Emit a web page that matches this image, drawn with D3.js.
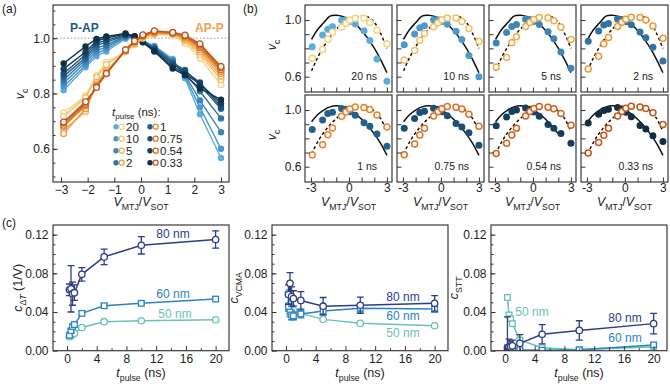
<!DOCTYPE html>
<meta charset="utf-8">
<script src="https://cdn.jsdelivr.net/npm/d3@7/dist/d3.min.js"></script>
<style>
  body { margin: 0; background: #fff; }
  svg { font-family: "Liberation Sans", Arial, Helvetica, sans-serif; }
</style>
<svg width="670" height="386"></svg>
<script>
// ---- data: panel (a) / (b) ----
var ratio = [-2.9, -2.08, -1.67, -1.3, -0.58, -0.24, 0.07, 0.5, 1.19, 1.65, 2.21, 3.0];
var tpulse = [20, 10, 5, 2, 1, 0.75, 0.54, 0.33];

// P-AP, filled circles (same order as tpulse)
var papVc = [
  [0.812, 0.895, 0.935, 0.952, 0.998, 1.000, 0.990, 0.972, 0.925, 0.855, 0.725, 0.567],
  [0.825, 0.902, 0.945, 0.960, 1.002, 1.002, 0.990, 0.970, 0.920, 0.862, 0.750, 0.600],
  [0.838, 0.912, 0.955, 0.968, 1.005, 1.003, 0.989, 0.968, 0.918, 0.868, 0.775, 0.660],
  [0.850, 0.922, 0.965, 0.975, 1.008, 1.004, 0.988, 0.966, 0.915, 0.875, 0.808, 0.710],
  [0.862, 0.930, 0.975, 0.985, 1.010, 1.005, 0.988, 0.963, 0.910, 0.885, 0.830, 0.745],
  [0.872, 0.940, 0.982, 0.992, 1.012, 1.006, 0.987, 0.960, 0.905, 0.880, 0.840, 0.752],
  [0.889, 0.950, 0.990, 1.000, 1.015, 1.006, 0.986, 0.956, 0.897, 0.872, 0.835, 0.765],
  [0.909, 0.970, 0.997, 1.006, 1.017, 1.007, 0.985, 0.952, 0.890, 0.866, 0.818, 0.778]
];
// AP-P, open circles
var appVc = [
  [0.730, 0.792, 0.865, 0.913, 0.950, 0.976, 1.000, 1.012, 1.012, 0.982, 0.928, 0.832],
  [0.718, 0.785, 0.858, 0.905, 0.952, 0.979, 1.002, 1.015, 1.014, 0.990, 0.940, 0.850],
  [0.668, 0.735, 0.840, 0.882, 0.954, 0.982, 1.004, 1.018, 1.016, 0.995, 0.950, 0.862],
  [0.655, 0.745, 0.832, 0.876, 0.955, 0.984, 1.006, 1.020, 1.017, 1.000, 0.958, 0.872],
  [0.682, 0.755, 0.826, 0.873, 0.956, 0.986, 1.008, 1.022, 1.018, 1.004, 0.965, 0.880],
  [0.685, 0.760, 0.824, 0.872, 0.957, 0.988, 1.009, 1.024, 1.019, 1.007, 0.970, 0.886],
  [0.693, 0.765, 0.823, 0.872, 0.958, 0.989, 1.010, 1.025, 1.020, 1.009, 0.975, 0.892],
  [0.697, 0.770, 0.822, 0.872, 0.958, 0.990, 1.012, 1.027, 1.021, 1.011, 0.980, 0.898]
];
var papColors = ["#5eacdc", "#4b9acb", "#3c87b8", "#2f74a3", "#23618c", "#1b4f74", "#153f5e", "#0f2f47"];
var appColors = ["#f6d382", "#f3c066", "#f0ac4e", "#ec993d", "#e5852f", "#dc7326", "#d0631f", "#c4561b"];

// fit curves in (b)
var fitX = [-2.95, -2.5, -2, -1.5, -1, -0.5, 0, 0.5, 1, 1.5, 2, 2.5, 3];
var fitLongPAP  = [0.864, 0.930, 0.980, 1.028, 1.034, 1.025, 1.003, 0.971, 0.926, 0.869, 0.801, 0.721, 0.628];
var fitLongAPP  = [0.642, 0.730, 0.810, 0.880, 0.935, 0.975, 1.002, 1.020, 1.028, 1.022, 0.985, 0.905, 0.800];
var fitShortPAP = [0.917, 0.965, 1.000, 1.022, 1.030, 1.022, 1.002, 0.973, 0.935, 0.888, 0.832, 0.765, 0.680];
var fitShortAPP = [0.690, 0.770, 0.840, 0.895, 0.940, 0.975, 1.000, 1.017, 1.025, 1.020, 0.993, 0.940, 0.848];
var fitEnd = [3, 3, 3, 3, 3, 3, 2.2, 3];

// ---- data: panel (c) ----
var tp = [0.33, 0.54, 0.75, 1, 2, 5, 10, 20];
var sizes = ["50 nm", "60 nm", "80 nm"];
var sizeColors = ["#6cc1b5", "#2a84c4", "#2d3d8c"];

var cdt50 = [0.0145, 0.0155, 0.017, 0.018, 0.024, 0.030, 0.031, 0.032];
var cdt60 = [0.016, 0.0207, 0.025, 0.027, 0.0386, 0.0465, 0.049, 0.0534];
var cdt80 = [0.063, 0.064, 0.059, 0.060, 0.079, 0.097, 0.109, 0.115];
var cdt50err = [0.001, 0.001, 0.001, 0.001, 0.001, 0.001, 0.001, 0.001];
var cdt60err = [0.002, 0.002, 0.002, 0.002, 0.002, 0.002, 0.002, 0.002];
var cdt80err = [0.006, 0.024, 0.012, 0.008, 0.007, 0.008, 0.009, 0.009];

var cvc50 = [0.060, 0.048, 0.045, 0.042, 0.0386, 0.0324, 0.0283, 0.0258];
var cvc60 = [0.045, 0.040, 0.037, 0.036, 0.038, 0.041, 0.044, 0.043];
var cvc80 = [0.058, 0.0697, 0.056, 0.054, 0.052, 0.046, 0.047, 0.049];
var cvc50err = [0.001, 0.001, 0.001, 0.001, 0.001, 0.001, 0.001, 0.001];
var cvc60err = [0.004, 0.005, 0.005, 0.004, 0.004, 0.004, 0.004, 0.003];
var cvc80err = [0.010, 0.011, 0.010, 0.008, 0.009, 0.009, 0.0085, 0.008];

var cst50 = [0.055, 0.037, 0.033, 0.028, 0.011, 0.003, 0.001, 0.004];
var cst60 = [0.003, 0.003, 0.002, 0.002, 0.001, 0.0005, 0.001, 0.006];
var cst80 = [0.003, 0.004, 0.004, 0.005, 0.0076, 0.017, 0.021, 0.028];
var cst50err = [0.002, 0.002, 0.002, 0.002, 0.002, 0.002, 0.002, 0.002];
var cst60err = [0.002, 0.002, 0.002, 0.002, 0.002, 0.002, 0.002, 0.002];
var cst80err = [0.032, 0.008, 0.006, 0.006, 0.009, 0.010, 0.010, 0.0105];

var svg = d3.select("svg");
var axisCol = "#333";

function frame(g, w, h) {
  g.append("rect").attr("width", w).attr("height", h)
    .attr("fill", "none").attr("stroke", "#3a3a3a").attr("stroke-width", 1.2);
}

// text with italic / subscript pieces
function rich(g, x, y, parts, size, anchor, rotate) {
  var t = g.append("text").attr("font-size", size).attr("fill", "#222")
    .attr("text-anchor", anchor || "middle");
  if (rotate) t.attr("transform", "translate(" + x + "," + y + ") rotate(-90)");
  else t.attr("x", x).attr("y", y);
  var shift = 0;
  parts.forEach(function(p) {
    var ts = t.append("tspan").text(p.t);
    if (p.i) ts.attr("font-style", "italic");
    var target = p.sub ? size * 0.28 : 0;
    ts.attr("dy", target - shift);
    shift = target;
    if (p.sub) ts.attr("font-size", size * 0.7);
  });
  return t;
}

function leftAxis(g, y, major, minor, fmt, pad) {
  if (minor) {
    g.append("g").call(d3.axisLeft(y).tickValues(minor).tickSize(-2.5).tickFormat(""))
      .call(function(s) { s.select(".domain").remove(); });
  }
  var a = g.append("g").call(d3.axisLeft(y).tickValues(major).tickSize(-4.5).tickPadding(pad).tickFormat(fmt));
  a.select(".domain").remove();
  g.selectAll("g").attr("color", axisCol);
  a.selectAll("text").attr("font-size", 12).attr("fill", "#222").attr("font-family", null);
}

function bottomAxis(g, x, h, major, minor, fmt, pad) {
  if (minor) {
    g.append("g").attr("transform", "translate(0," + h + ")")
      .call(d3.axisBottom(x).tickValues(minor).tickSize(-2.5).tickFormat(""))
      .call(function(s) { s.select(".domain").remove(); });
  }
  var a = g.append("g").attr("transform", "translate(0," + h + ")")
    .call(d3.axisBottom(x).tickValues(major).tickSize(-4.5).tickPadding(pad).tickFormat(fmt));
  a.select(".domain").remove();
  g.selectAll("g").attr("color", axisCol);
  a.selectAll("text").attr("font-size", 12).attr("fill", "#222").attr("font-family", null);
}

var vParts = [{t: "V", i: 1}, {t: "MTJ", sub: 1}, {t: "/"}, {t: "V", i: 1}, {t: "SOT", sub: 1}];
var vcParts = [{t: "v", i: 1}, {t: "c", sub: 1}];
var tParts = [{t: "t", i: 1}, {t: "pulse", sub: 1}, {t: " (ns)"}];

// ================= (a) =================
var aW = 176, aH = 177;
var ga = svg.append("g").attr("transform", "translate(53,5)");
var xA = d3.scaleLinear().domain([-3.3, 3.3]).range([0, aW]);
var yA = d3.scaleLinear().domain([0.48, 1.12]).range([aH, 0]);

ga.append("line").attr("x1", 0).attr("x2", aW).attr("y1", yA(1)).attr("y2", yA(1))
  .attr("stroke", "#999").attr("stroke-width", 1).attr("stroke-dasharray", "1.5,2");

var lineA = d3.line().x(function(d, i) { return xA(ratio[i]); }).y(function(d) { return yA(d); });

papVc.forEach(function(s, k) {
  ga.append("path").attr("d", lineA(s)).attr("fill", "none")
    .attr("stroke", papColors[k]).attr("stroke-width", 1.4);
  ga.selectAll(null).data(s).enter().append("circle")
    .attr("cx", function(d, i) { return xA(ratio[i]); }).attr("cy", function(d) { return yA(d); })
    .attr("r", 3.2).attr("fill", papColors[k]);
});
appVc.forEach(function(s, k) {
  ga.append("path").attr("d", lineA(s)).attr("fill", "none")
    .attr("stroke", appColors[k]).attr("stroke-width", 1.4);
  ga.selectAll(null).data(s).enter().append("circle")
    .attr("cx", function(d, i) { return xA(ratio[i]); }).attr("cy", function(d) { return yA(d); })
    .attr("r", 2.9).attr("fill", "#fff").attr("stroke", appColors[k]).attr("stroke-width", 1.3);
});

leftAxis(ga, yA, [0.6, 0.8, 1.0], d3.range(0.5, 1.11, 0.05), d3.format(".1f"), 3);
bottomAxis(ga, xA, aH, [-3, -2, -1, 0, 1, 2, 3], null, d3.format("d"), 3);
frame(ga, aW, aH);

ga.append("text").attr("x", 17).attr("y", 26.5).attr("font-size", 12).attr("font-weight", "bold")
  .attr("fill", "#1f5a85").text("P-AP");
ga.append("text").attr("x", 142).attr("y", 26.5).attr("font-size", 12).attr("font-weight", "bold")
  .attr("fill", "#f0a24e").text("AP-P");

// legend
rich(ga, 59, 111, [{t: "t", i: 1}, {t: "pulse", sub: 1}, {t: " (ns):"}], 11.5, "start");
tpulse.forEach(function(t, k) {
  var col = Math.floor(k / 4), row = k % 4;
  var lx = col === 0 ? 63 : 97, ly = 121.7 + row * 12;
  ga.append("circle").attr("cx", lx).attr("cy", ly).attr("r", 2.7).attr("fill", papColors[k]);
  ga.append("circle").attr("cx", lx + 5.7).attr("cy", ly).attr("r", 2.5)
    .attr("fill", "#fff").attr("stroke", appColors[k]).attr("stroke-width", 1.2);
  ga.append("text").attr("x", lx + 10).attr("y", ly + 4.2).attr("font-size", 11.5)
    .attr("fill", "#222").text(t);
});

rich(svg, 141, 206, vParts, 12.5, "middle");
rich(svg, 24, 94, vcParts, 12.5, "middle", true);
svg.append("text").attr("x", 2).attr("y", 13).attr("font-size", 12).attr("fill", "#222").text("(a)");

// ================= (b) =================
var bCols = [305, 397, 489, 581], bRows = [5, 95], bW = 87, bH = 87;
var xB = d3.scaleLinear().domain([-3.47, 3.4]).range([0, bW]);
var yB = d3.scaleLinear().domain([0.492, 1.106]).range([bH, 0]);
var fitLine = d3.line().curve(d3.curveCatmullRom)
  .x(function(d) { return xB(d[0]); }).y(function(d) { return yB(d[1]); });

tpulse.forEach(function(t, k) {
  var r = Math.floor(k / 4), c = k % 4;
  var g = svg.append("g").attr("transform", "translate(" + bCols[c] + "," + bRows[r] + ")");
  var fs = r === 0 ? fitLongPAP : fitShortPAP, fd = r === 0 ? fitLongAPP : fitShortAPP;
  var sPts = fitX.map(function(x, i) { return [x, fs[i]]; }).filter(function(d) { return d[0] <= fitEnd[k]; });
  var dPts = fitX.map(function(x, i) { return [x, fd[i]]; });
  g.append("path").attr("d", fitLine(sPts)).attr("fill", "none").attr("stroke", "#111").attr("stroke-width", 1.5);
  g.append("path").attr("d", fitLine(dPts)).attr("fill", "none").attr("stroke", "#111")
    .attr("stroke-width", 1.5).attr("stroke-dasharray", "3,2.5");

  g.selectAll(null).data(papVc[k]).enter().append("circle")
    .attr("cx", function(d, i) { return xB(ratio[i]); }).attr("cy", function(d) { return yB(d); })
    .attr("r", 3.5).attr("fill", papColors[k]);
  g.selectAll(null).data(appVc[k]).enter().append("circle")
    .attr("cx", function(d, i) { return xB(ratio[i]); }).attr("cy", function(d) { return yB(d); })
    .attr("r", 3).attr("fill", "#fff").attr("stroke", appColors[k]).attr("stroke-width", 1.5);

  leftAxis(g, yB, [0.6, 0.7, 0.8, 0.9, 1.0], null,
    function(d) { return c === 0 && (d === 1.0 || d === 0.6) ? d3.format(".1f")(d) : ""; }, 3.5);
  bottomAxis(g, xB, bH, [-3, -2, -1, 0, 1, 2, 3], null,
    function(d) { return r === 1 && (d === -3 || d === 0 || d === 3) ? d : ""; }, 1.5);
  frame(g, bW, bH);

  g.append("text").attr("x", bW - 15).attr("y", 75).attr("text-anchor", "end")
    .attr("font-size", 10.5).attr("fill", "#222").text(t + " ns");

  if (r === 1) rich(svg, bCols[c] + bW / 2, 206, vParts, 12.5, "middle");
  if (c === 0) rich(svg, 276, bRows[r] + 40, vcParts, 12.5, "middle", true);
});
svg.append("text").attr("x", 243).attr("y", 13).attr("font-size", 12).attr("fill", "#222").text("(b)");

// ================= (c) =================
var cX0 = [53, 272, 491], cW = 176, cTop = 225, cH = 125.7;
var cSets = [
  {vals: [cdt50, cdt60, cdt80], errs: [cdt50err, cdt60err, cdt80err], shapes: ["o", "s", "o"],
   ylab: [{t: "c", i: 1}, {t: "\u0394", sub: 1}, {t: "T", sub: 1, i: 1}, {t: " (1/V)"}], ylx: 22,
   labs: [[175, 318], [173, 298], [173, 238]]},
  {vals: [cvc50, cvc60, cvc80], errs: [cvc50err, cvc60err, cvc80err], shapes: ["o", "s", "o"],
   ylab: [{t: "c", i: 1}, {t: "VCMA", sub: 1}], ylx: 238,
   labs: [[403, 337], [403, 320], [403, 301]]},
  {vals: [cst50, cst60, cst80], errs: [cst50err, cst60err, cst80err], shapes: ["s", "s", "o"],
   ylab: [{t: "c", i: 1}, {t: "STT", sub: 1}], ylx: 458,
   labs: [[532, 316], [625, 342], [625, 322]]}
];
var xC = d3.scaleLinear().domain([-1.88, 21.8]).range([0, cW]);
var yC = d3.scaleLinear().domain([0, 0.13]).range([cH, 0]);
var lineC = d3.line().x(function(d, i) { return xC(tp[i]); }).y(function(d) { return yC(d); });

cSets.forEach(function(set, p) {
  var g = svg.append("g").attr("transform", "translate(" + cX0[p] + "," + cTop + ")");
  g.append("clipPath").attr("id", "clipc" + p).append("rect").attr("width", cW).attr("height", cH);
  var pg = g.append("g").attr("clip-path", "url(#clipc" + p + ")");
  set.vals.forEach(function(s, j) {
    var col = sizeColors[j], e = set.errs[j];
    s.forEach(function(v, i) {
      var cx = xC(tp[i]), y1 = yC(v - e[i]), y2 = yC(v + e[i]);
      pg.append("line").attr("x1", cx).attr("x2", cx).attr("y1", y1).attr("y2", y2)
        .attr("stroke", col).attr("stroke-width", 1.3);
      [y1, y2].forEach(function(yy) {
        pg.append("line").attr("x1", cx - 3.5).attr("x2", cx + 3.5).attr("y1", yy).attr("y2", yy)
          .attr("stroke", col).attr("stroke-width", 1.3);
      });
    });
    pg.append("path").attr("d", lineC(s)).attr("fill", "none").attr("stroke", col).attr("stroke-width", 1.5);
    s.forEach(function(v, i) {
      if (set.shapes[j] === "s") {
        pg.append("rect").attr("x", xC(tp[i]) - 2.8).attr("y", yC(v) - 2.8)
          .attr("width", 5.6).attr("height", 5.6).attr("fill", "#fff")
          .attr("stroke", col).attr("stroke-width", 1.3);
      } else {
        pg.append("circle").attr("cx", xC(tp[i])).attr("cy", yC(v)).attr("r", 3.2)
          .attr("fill", "#fff").attr("stroke", col).attr("stroke-width", 1.3);
      }
    });
    svg.append("text").attr("x", set.labs[j][0]).attr("y", set.labs[j][1])
      .attr("text-anchor", "middle").attr("font-size", 12).attr("fill", col).text(sizes[j]);
  });

  leftAxis(g, yC, [0, 0.04, 0.08, 0.12], d3.range(0.01, 0.13, 0.01), d3.format(".2f"), 4.5);
  bottomAxis(g, xC, cH, [0, 4, 8, 12, 16, 20], [2, 6, 10, 14, 18], d3.format("d"), 4);
  frame(g, cW, cH);

  rich(svg, cX0[p] + cW / 2, 377, tParts, 12.5, "middle");
  rich(svg, set.ylx, cTop + cH / 2, set.ylab, 12.5, "middle", true);
});
svg.append("text").attr("x", 2).attr("y", 227).attr("font-size", 12).attr("fill", "#222").text("(c)");
</script>
